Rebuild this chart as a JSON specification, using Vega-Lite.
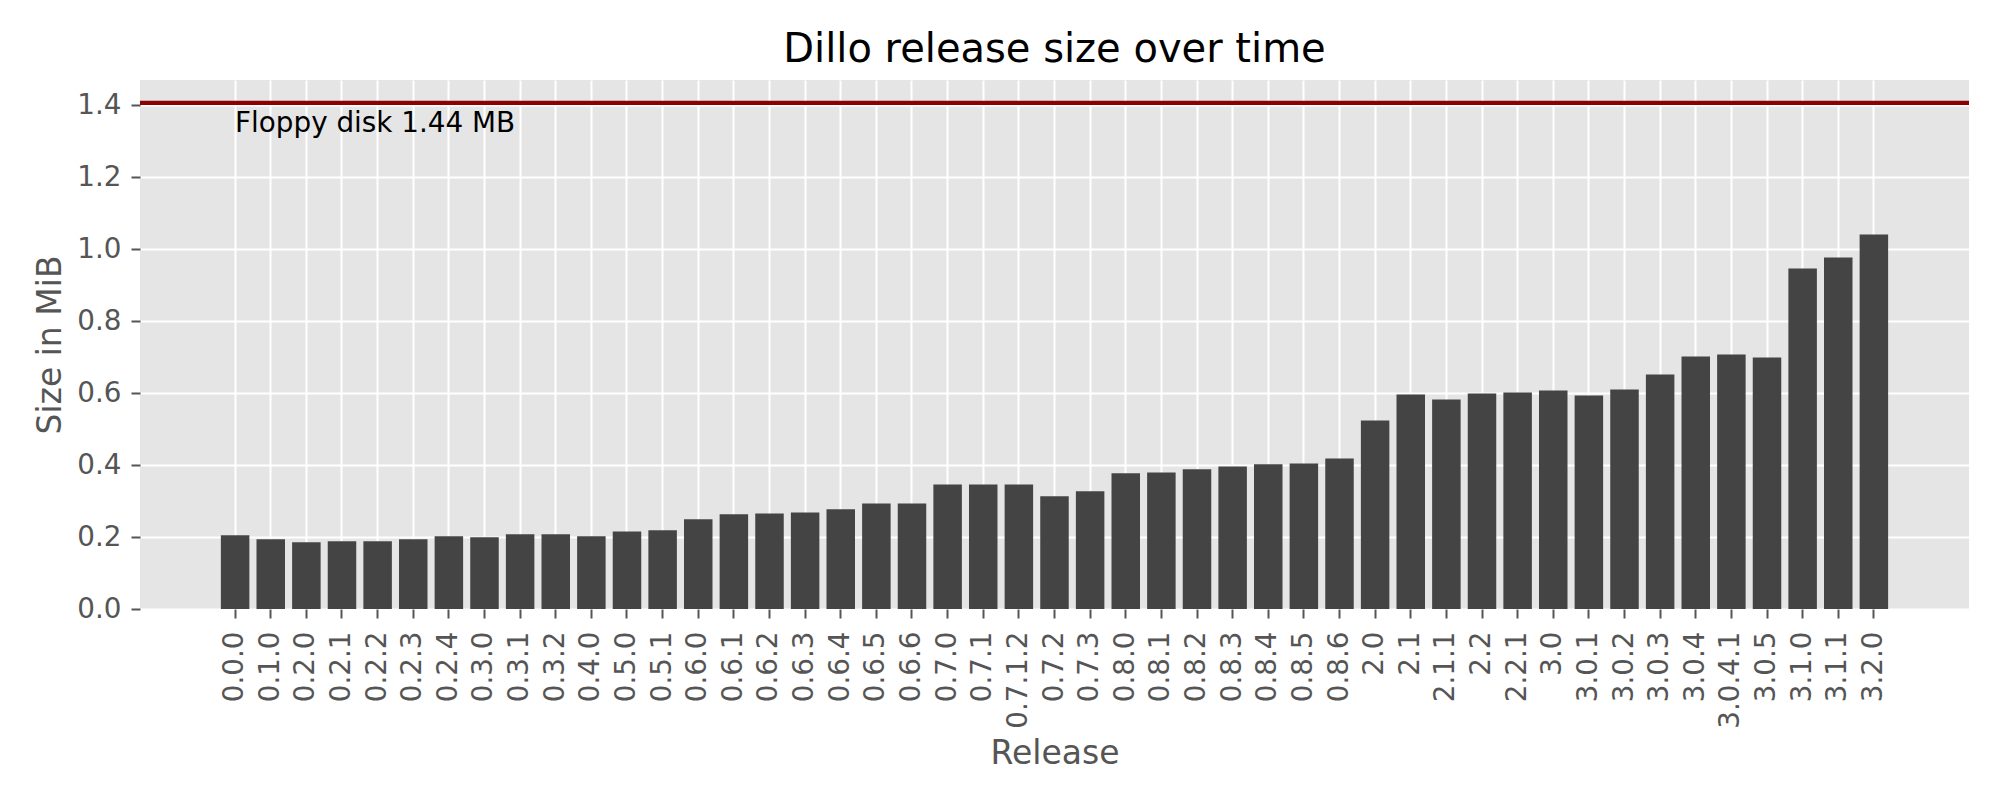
{
  "$schema": "https://vega.github.io/schema/vega-lite/v6.json",
  "width": 1829,
  "height": 529,
  "autosize": "none",
  "padding": {"left": 140, "top": 80, "right": 31, "bottom": 191},
  "background": "white",
  "title": {
    "text": "Dillo release size over time",
    "font": "DejaVu Sans",
    "fontSize": 40,
    "fontWeight": "normal",
    "color": "#000000",
    "anchor": "middle",
    "frame": "group",
    "offset": 10
  },
  "datasets": {
    "releases": [
      {"release": "0.0.0", "size": 0.2046},
      {"release": "0.1.0", "size": 0.1935},
      {"release": "0.2.0", "size": 0.1852},
      {"release": "0.2.1", "size": 0.1880},
      {"release": "0.2.2", "size": 0.1880},
      {"release": "0.2.3", "size": 0.1935},
      {"release": "0.2.4", "size": 0.2019},
      {"release": "0.3.0", "size": 0.1991},
      {"release": "0.3.1", "size": 0.2074},
      {"release": "0.3.2", "size": 0.2074},
      {"release": "0.4.0", "size": 0.2019},
      {"release": "0.5.0", "size": 0.2157},
      {"release": "0.5.1", "size": 0.2185},
      {"release": "0.6.0", "size": 0.2491},
      {"release": "0.6.1", "size": 0.2630},
      {"release": "0.6.2", "size": 0.2657},
      {"release": "0.6.3", "size": 0.2685},
      {"release": "0.6.4", "size": 0.2769},
      {"release": "0.6.5", "size": 0.2935},
      {"release": "0.6.6", "size": 0.2935},
      {"release": "0.7.0", "size": 0.3463},
      {"release": "0.7.1", "size": 0.3463},
      {"release": "0.7.1.2", "size": 0.3463},
      {"release": "0.7.2", "size": 0.3130},
      {"release": "0.7.3", "size": 0.3269},
      {"release": "0.8.0", "size": 0.3769},
      {"release": "0.8.1", "size": 0.3796},
      {"release": "0.8.2", "size": 0.3880},
      {"release": "0.8.3", "size": 0.3963},
      {"release": "0.8.4", "size": 0.4019},
      {"release": "0.8.5", "size": 0.4046},
      {"release": "0.8.6", "size": 0.4185},
      {"release": "2.0", "size": 0.5241},
      {"release": "2.1", "size": 0.5963},
      {"release": "2.1.1", "size": 0.5824},
      {"release": "2.2", "size": 0.5991},
      {"release": "2.2.1", "size": 0.6019},
      {"release": "3.0", "size": 0.6074},
      {"release": "3.0.1", "size": 0.5935},
      {"release": "3.0.2", "size": 0.6102},
      {"release": "3.0.3", "size": 0.6519},
      {"release": "3.0.4", "size": 0.7019},
      {"release": "3.0.4.1", "size": 0.7074},
      {"release": "3.0.5", "size": 0.6991},
      {"release": "3.1.0", "size": 0.9463},
      {"release": "3.1.1", "size": 0.9769},
      {"release": "3.2.0", "size": 1.0407}
    ],
    "floppy": [
      {"release": "0.0.0", "size": 1.40625, "label": "Floppy disk 1.44 MB"}
    ]
  },
  "layer": [
    {
      "data": {"name": "releases"},
      "mark": {"type": "bar", "color": "#444444"},
      "encoding": {
        "x": {
          "field": "release",
          "type": "nominal",
          "title": "Release",
          "scale": {
            "domain": ["pad_a", "pad_b",
              "0.0.0", "0.1.0", "0.2.0", "0.2.1", "0.2.2", "0.2.3", "0.2.4", "0.3.0", "0.3.1", "0.3.2",
              "0.4.0", "0.5.0", "0.5.1", "0.6.0", "0.6.1", "0.6.2", "0.6.3", "0.6.4", "0.6.5", "0.6.6",
              "0.7.0", "0.7.1", "0.7.1.2", "0.7.2", "0.7.3", "0.8.0", "0.8.1", "0.8.2", "0.8.3", "0.8.4",
              "0.8.5", "0.8.6", "2.0", "2.1", "2.1.1", "2.2", "2.2.1", "3.0", "3.0.1", "3.0.2",
              "3.0.3", "3.0.4", "3.0.4.1", "3.0.5", "3.1.0", "3.1.1", "3.2.0",
              "pad_c", "pad_d"],
            "paddingInner": 0.2,
            "paddingOuter": 0.27
          },
          "axis": {
            "values": [
              "0.0.0", "0.1.0", "0.2.0", "0.2.1", "0.2.2", "0.2.3", "0.2.4", "0.3.0", "0.3.1", "0.3.2",
              "0.4.0", "0.5.0", "0.5.1", "0.6.0", "0.6.1", "0.6.2", "0.6.3", "0.6.4", "0.6.5", "0.6.6",
              "0.7.0", "0.7.1", "0.7.1.2", "0.7.2", "0.7.3", "0.8.0", "0.8.1", "0.8.2", "0.8.3", "0.8.4",
              "0.8.5", "0.8.6", "2.0", "2.1", "2.1.1", "2.2", "2.2.1", "3.0", "3.0.1", "3.0.2",
              "3.0.3", "3.0.4", "3.0.4.1", "3.0.5", "3.1.0", "3.1.1", "3.2.0"]
          }
        },
        "y": {
          "field": "size",
          "type": "quantitative",
          "title": "Size in MiB",
          "scale": {"domain": [0, 1.47], "nice": false},
          "axis": {"values": [0, 0.2, 0.4, 0.6, 0.8, 1.0, 1.2, 1.4], "format": ".1f"}
        }
      }
    },
    {
      "data": {"name": "floppy"},
      "mark": {"type": "rule", "color": "#8B0000", "strokeWidth": 4.2},
      "encoding": {
        "y": {"field": "size", "type": "quantitative"}
      }
    },
    {
      "data": {"name": "floppy"},
      "mark": {
        "type": "text",
        "align": "left",
        "baseline": "top",
        "dy": 7,
        "font": "DejaVu Sans",
        "fontSize": 27.8,
        "color": "#000000"
      },
      "encoding": {
        "x": {"field": "release", "type": "nominal"},
        "y": {"field": "size", "type": "quantitative"},
        "text": {"field": "label"}
      }
    }
  ],
  "config": {
    "view": {"fill": "#E5E5E5", "stroke": null},
    "axis": {
      "domain": false,
      "grid": true,
      "gridColor": "#FFFFFF",
      "gridWidth": 2,
      "gridOpacity": 1,
      "ticks": true,
      "tickColor": "#555555",
      "tickWidth": 2,
      "tickSize": 9,
      "labelFont": "DejaVu Sans",
      "labelFontSize": 27.8,
      "labelColor": "#555555",
      "titleFont": "DejaVu Sans",
      "titleFontSize": 33,
      "titleFontWeight": "normal",
      "titleColor": "#555555"
    },
    "axisX": {
      "bandPosition": 0.5,
      "labelAngle": 270,
      "labelAlign": "right",
      "labelBaseline": "middle",
      "labelPadding": 13,
      "titlePadding": 9
    },
    "axisY": {
      "labelPadding": 10,
      "titlePadding": 9
    }
  }
}
